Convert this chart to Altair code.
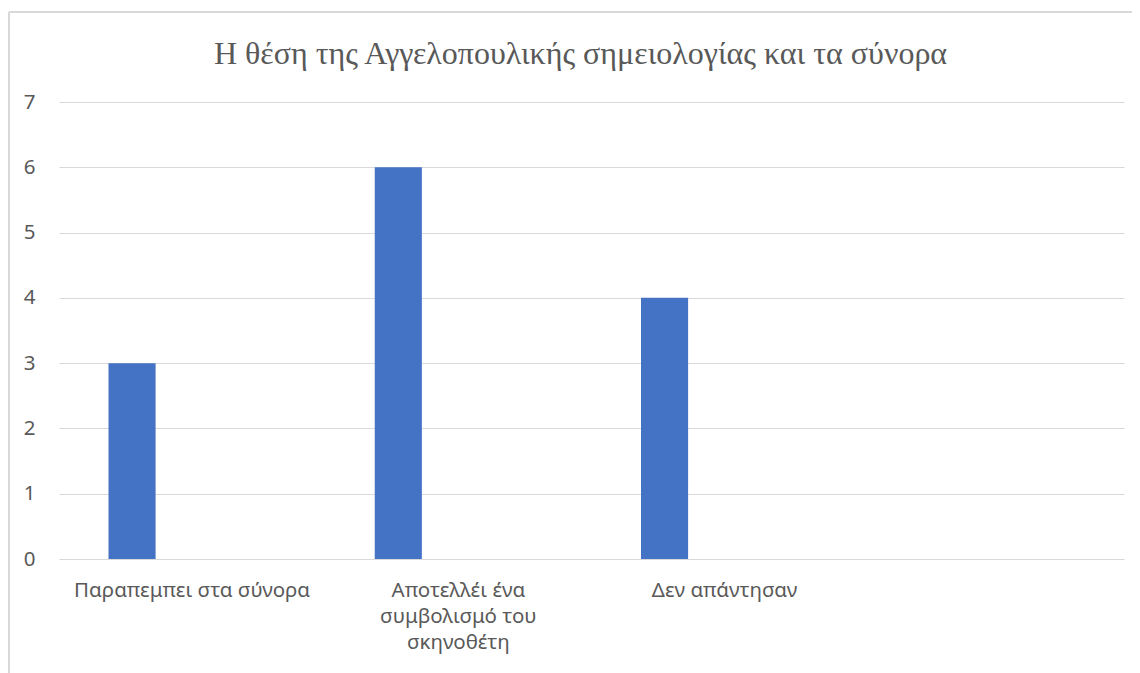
import altair as alt
import pandas as pd

title = "Η θέση της Αγγελοπουλικής σημειολογίας και τα σύνορα"
categories = ["Παραπεμπει στα σύνορα", "Αποτελλέι ένα συμβολισμό του σκηνοθέτη", "Δεν απάντησαν", " "]
label_lines = [["Παραπεμπει στα σύνορα"], ["Αποτελλέι ένα", "συμβολισμό του", "σκηνοθέτη"], ["Δεν απάντησαν"], [" "]]
values = [3, 6, 4]
series = ["Σειρά 1", "Σειρά 2"]
y_ticks = [0, 1, 2, 3, 4, 5, 6, 7]

df = pd.DataFrame({
    "category": categories[:3],
    "value": values,
    "series": [series[0]] * 3,
})

# build label expression for wrapped labels
parts = []
for c, lines in zip(categories, label_lines):
    if len(lines) > 1:
        arr = "[" + ",".join("'" + l + "'" for l in lines) + "]"
        parts.append(f"datum.label == '{c}' ? {arr} : ")
label_expr = "".join(parts) + "datum.label"

W, H = 1065, 457
PAD_L, PAD_T = 51, 94

bars = alt.Chart(df).mark_bar(color="#4472C4").encode(
    x=alt.X("category:N",
            scale=alt.Scale(domain=categories, paddingInner=0, paddingOuter=0),
            axis=alt.Axis(title=None, labelAngle=0, labelExpr=label_expr,
                          labelFont="Noto Sans", labelFontSize=20.5, labelColor="#595959",
                          labelPadding=21, labelLineHeight=26, labelLimit=300,
                          ticks=False, domain=False, grid=False, labelBaseline="top")),
    xOffset=alt.XOffset("series:N",
                        scale=alt.Scale(domain=series, paddingInner=0.608, paddingOuter=0.412)),
    y=alt.Y("value:Q",
            scale=alt.Scale(domain=[0, 7], nice=False),
            axis=alt.Axis(title=None, values=y_ticks, format="d",
                          labelFont="Noto Sans", labelFontSize=20.5, labelColor="#595959",
                          labelPadding=24, ticks=False, domain=False,
                          gridColor="#d9d9d9", gridWidth=1)),
)

border_top = alt.Chart(df).mark_rule(color="#d9d9d9", strokeWidth=1.5).encode(
    x=alt.value(-50), x2=alt.value(W + 30), y=alt.value(-90)
)
border_left = alt.Chart(df).mark_rule(color="#d9d9d9", strokeWidth=1.5).encode(
    x=alt.value(-50), x2=alt.value(-50), y=alt.value(-90), y2=alt.value(H + 140)
)

chart = alt.layer(border_top, border_left, bars).properties(
    width=W, height=H,
    title=alt.TitleParams(title, font="Liberation Serif", fontSize=32, fontWeight="normal",
                          color="#595959", anchor="middle", frame="group", offset=0, dy=60, dx=-11),
    autosize=alt.AutoSizeParams(type="none"),
    padding={"left": PAD_L, "top": PAD_T, "right": 8, "bottom": 116},
).configure_view(stroke=None)

chart.save("out.html", embed_options={"renderer": "svg", "actions": False})
